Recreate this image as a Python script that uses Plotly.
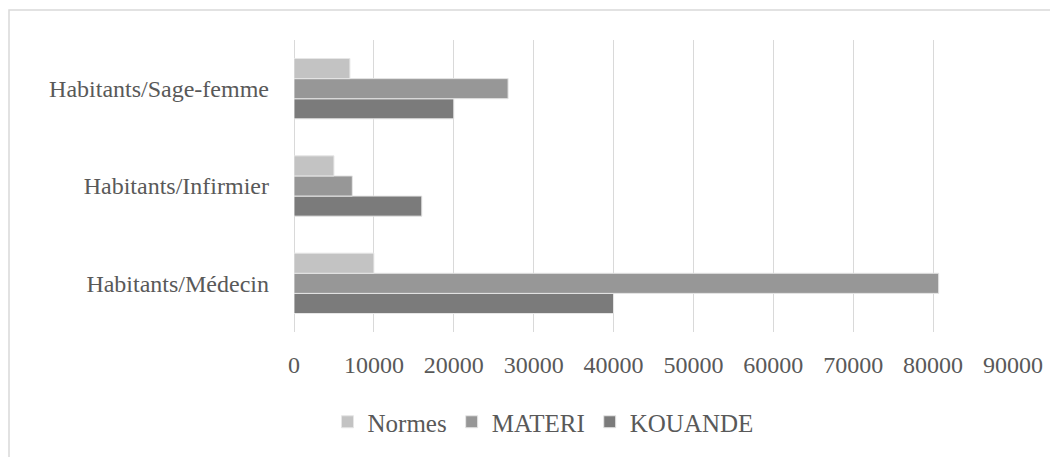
import plotly.graph_objects as go

categories = ["Habitants/Médecin", "Habitants/Infirmier", "Habitants/Sage-femme"]
normes = [10000, 5000, 7000]
materi = [80700, 7300, 26800]
kouande = [40000, 16000, 20000]

series = [
    ("KOUANDE", kouande, "#7b7b7b"),
    ("MATERI", materi, "#979797"),
    ("Normes", normes, "#c3c3c3"),
]

FONT = "Liberation Serif"
TXT = "#595959"
FS = 24

fig = go.Figure()
for name, vals, col in series:
    fig.add_trace(go.Bar(
        y=categories, x=vals, name=name, orientation="h",
        marker=dict(color=col, line=dict(color="#e6e6e6", width=1)),
    ))

# page body adds an 8px offset; compensate
OFF = 8
W, H = 1058, 457
L = 294 - OFF
T = 40 - OFF
R = W - (1013 - OFF)
B = H - (332 - OFF)

fig.update_layout(
    width=W, height=H,
    margin=dict(l=L, r=R, t=T, b=B),
    barmode="group", bargap=0.38, bargroupgap=0,
    paper_bgcolor="white", plot_bgcolor="white",
    font=dict(family=FONT, size=FS, color=TXT),
    legend=dict(
        orientation="h", traceorder="reversed",
        xref="container", yref="container",
        x=(543 - OFF) / W, xanchor="center", y=1 - (422 - OFF) / H, yanchor="middle",
        font=dict(family=FONT, size=25, color=TXT),
        itemwidth=30,
    ),
    xaxis=dict(
        range=[0, 90000], dtick=10000, tickformat="d",
        showgrid=True, gridcolor="#d9d9d9", gridwidth=1,
        zeroline=True, zerolinecolor="#d9d9d9", zerolinewidth=1,
        showline=False, ticks="", ticklabelstandoff=16,
        tickfont=dict(family=FONT, size=FS, color=TXT),
    ),
    yaxis=dict(
        showgrid=False, showline=False, ticks="",
        ticklabelstandoff=24,
        tickfont=dict(family=FONT, size=FS, color=TXT),
    ),
    shapes=[dict(
        type="rect", xref="paper", yref="paper",
        x0=(9 - 294) / (1013 - 294), x1=1.2,
        y0=-1.0, y1=(332 - 10) / (332 - 40),
        line=dict(color="#d9d9d9", width=1.5), fillcolor="rgba(0,0,0,0)",
        layer="below",
    )],
)

fig.write_html("out.html")
